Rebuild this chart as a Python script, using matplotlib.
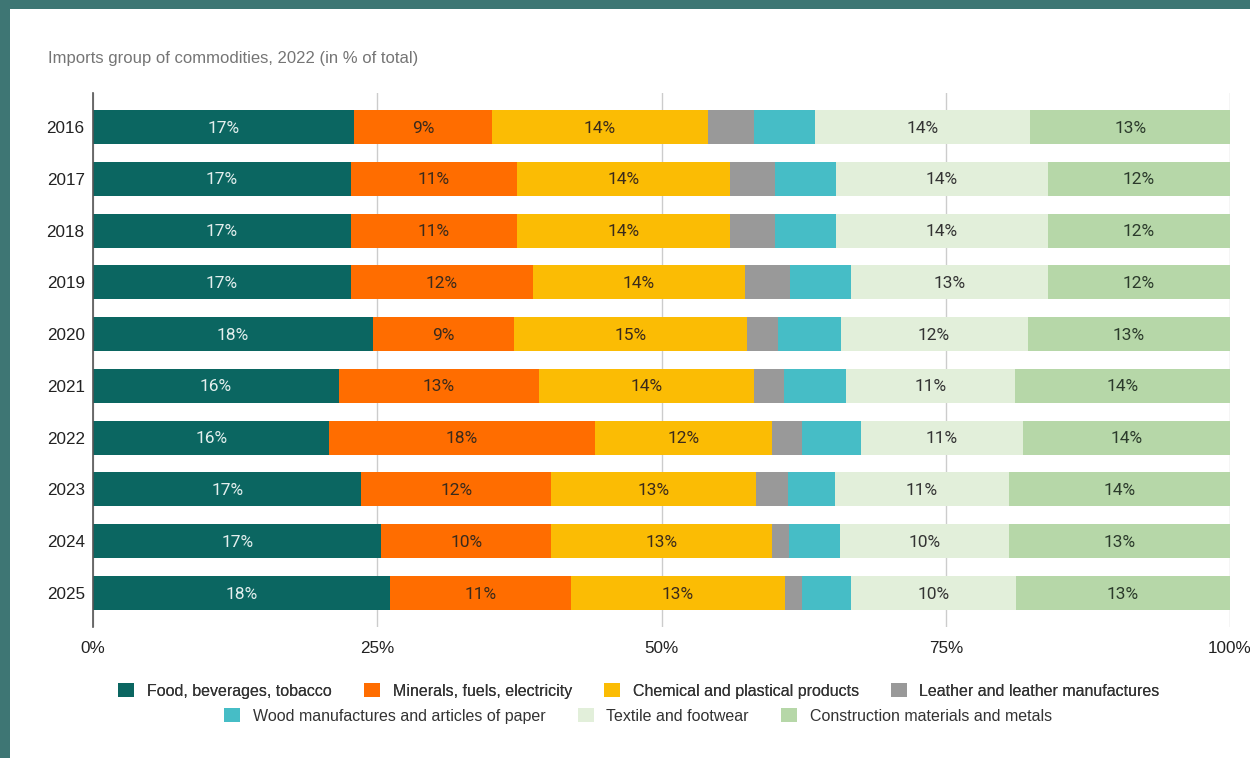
import matplotlib.pyplot as plt
import numpy as np
from matplotlib.patches import Patch, Rectangle

# Import shares by group of commodities (% of total imports)
years = ["2016", "2017", "2018", "2019", "2020", "2021", "2022", "2023", "2024", "2025"]
groups = [
    "Food, beverages, tobacco",
    "Minerals, fuels, electricity",
    "Chemical and plastical products",
    "Leather and leather manufactures",
    "Wood manufactures and articles of paper",
    "Textile and footwear",
    "Construction materials and metals",
]
food = [17, 17, 17, 17, 18, 16, 16, 17, 17, 18]
minerals = [9, 11, 11, 12, 9, 13, 18, 12, 10, 11]
chemical = [14, 14, 14, 14, 15, 14, 12, 13, 13, 13]
leather = [3, 3, 3, 3, 2, 2, 2, 2, 1, 1]
wood = [4, 4, 4, 4, 4, 4, 4, 3, 3, 3]
textile = [14, 14, 14, 13, 12, 11, 11, 11, 10, 10]
construction = [13, 12, 12, 12, 13, 14, 14, 14, 13, 13]

colors = ["#0b6661", "#ff6d00", "#fbbc04", "#999999", "#46bdc6", "#e2efda", "#b6d7a8"]
label_colors = ["#e4efee", "#3a2a1c", "#3a2a1c", "#333333", "#333333", "#333333", "#2b3a2b"]

series = np.array([food, minerals, chemical, leather, wood, textile, construction], dtype=float)
# stacked to 100% of the groups shown
shares = series / series.sum(axis=0) * 100

fig = plt.figure(figsize=(12.5, 7.58), dpi=100)
fig.patch.set_facecolor("white")

# teal frame strips along the top and left edge
teal = "#3e7674"
fig.patches.append(Rectangle((0, 1 - 9 / 758), 1, 9 / 758, transform=fig.transFigure,
                             facecolor=teal, edgecolor="none", zorder=0))
fig.patches.append(Rectangle((0, 0), 10 / 1250, 1, transform=fig.transFigure,
                             facecolor=teal, edgecolor="none", zorder=0))

ax = fig.add_axes([93 / 1250, 131 / 758, 1137 / 1250, 534 / 758])

y = np.arange(len(years))
left = np.zeros(len(years))
for i, (name, share) in enumerate(zip(groups, shares)):
    ax.barh(y, share, left=left, height=0.656, color=colors[i], label=name, zorder=2)
    for j in range(len(years)):
        val = series[i, j]
        if val >= 5:
            ax.text(left[j] + share[j] / 2, y[j] + 0.02, f"{val:.0f}%", ha="center", va="center",
                    fontsize=12.5, color=label_colors[i], family="Roboto", zorder=3)
    left += share

ax.set_xlim(0, 100)
ax.set_ylim(len(years) - 1 + 0.656, -0.656)
ax.set_yticks(y)
ax.set_yticklabels(years)
ax.set_xticks([0, 25, 50, 75, 100])
ax.set_xticklabels(["0%", "25%", "50%", "75%", "100%"])
ax.tick_params(axis="both", length=0, labelsize=12.3, labelcolor="#222222",
               labelfontfamily="Liberation Sans")
ax.tick_params(axis="x", pad=10)
ax.tick_params(axis="y", pad=6)
ax.grid(axis="x", color="#cccccc", linewidth=1, zorder=0)
for side in ["top", "right", "bottom"]:
    ax.spines[side].set_visible(False)
ax.spines["left"].set_color("#555555")
ax.spines["left"].set_linewidth(1.2)
ax.spines["left"].set_zorder(4)

fig.text(48 / 1250, 1 - 58 / 758, "Imports group of commodities, 2022 (in % of total)",
         fontsize=12, color="#757575", family="Liberation Sans", va="center")

handles = [Patch(facecolor=c, edgecolor="none") for c in colors]
legend_style = dict(frameon=False, handlelength=1.0, handleheight=1.0, handletextpad=0.8,
                    columnspacing=2.0, prop={"family": "Liberation Sans", "size": 11.5},
                    labelcolor="#333333")
leg1 = fig.legend(handles[:4], groups[:4], ncol=4, loc="center",
                  bbox_to_anchor=(639 / 1250, 1 - 691 / 758), **legend_style)
fig.add_artist(leg1)
fig.legend(handles[4:], groups[4:], ncol=3, loc="center",
           bbox_to_anchor=(638 / 1250, 1 - 716 / 758), **legend_style)

fig.savefig("out.png", dpi=100)
